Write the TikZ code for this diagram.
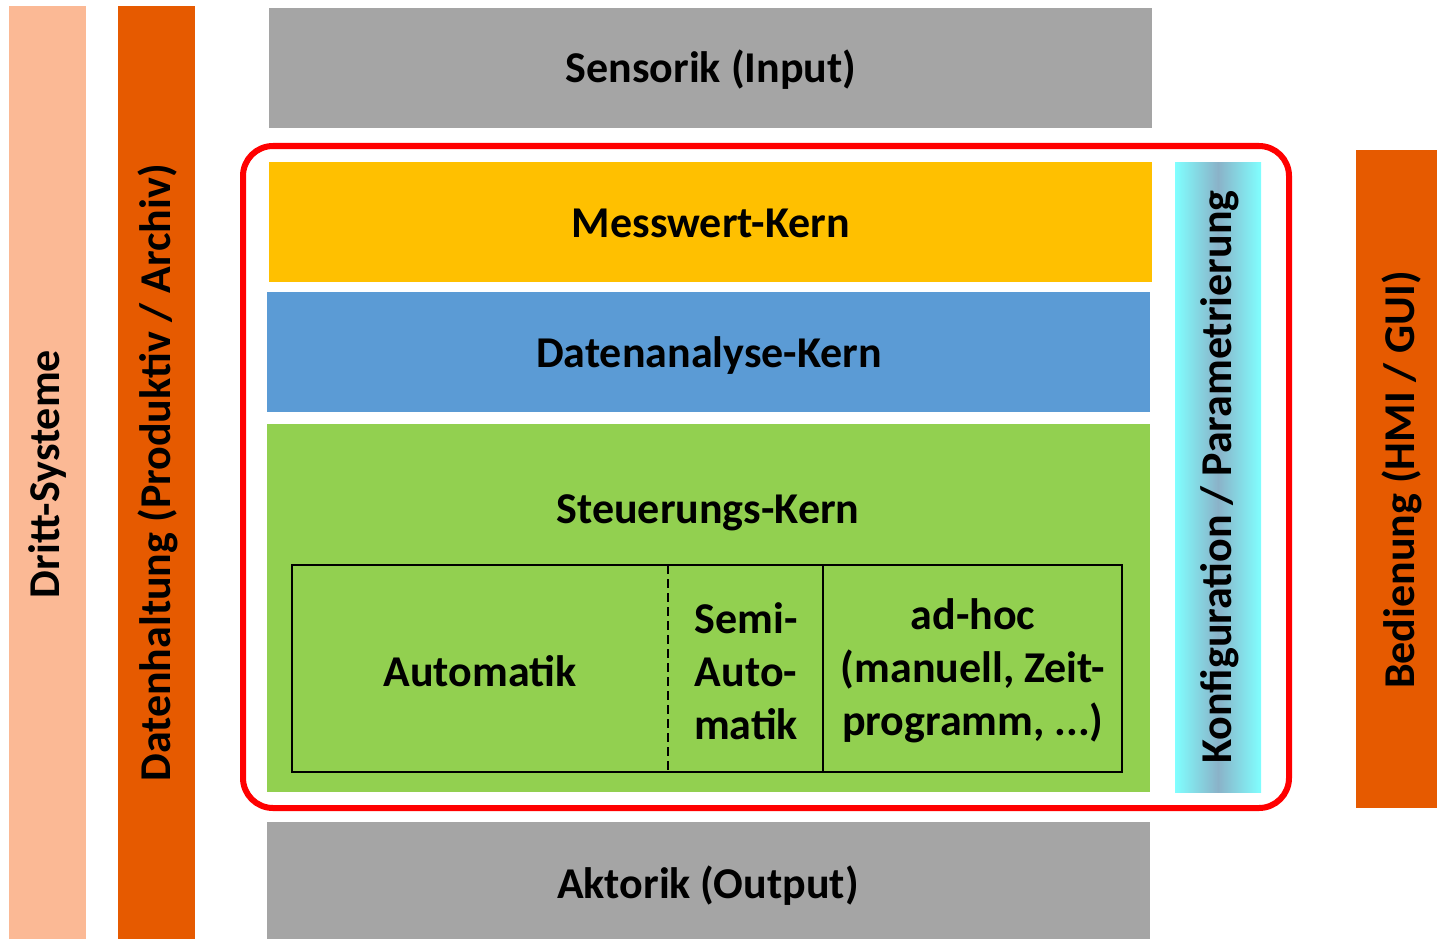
\documentclass[tikz,border=0pt]{standalone}
\usepackage{fontspec}
\setmainfont{Carlito}
\begin{document}
\begin{tikzpicture}[x=1pt,y=-1pt,
  lbl/.style={font=\fontsize{44}{53}\selectfont\bfseries,text=black,align=center},
  thinbox/.style={draw=black,line width=1.3pt}]
\definecolor{peach}{HTML}{FBB995}
\definecolor{dorange}{HTML}{E65A00}
\definecolor{gry}{HTML}{A5A5A5}
\definecolor{gold}{HTML}{FFC000}
\definecolor{blu}{HTML}{5B9BD5}
\definecolor{grn}{HTML}{92D050}
\definecolor{cyn}{HTML}{80FFFF}
\definecolor{cynmid}{HTML}{8AB2C8}
\useasboundingbox (0,0) rectangle (1437,939);
% side bars
\fill[peach] (9,6) rectangle (86,939);
\node[lbl,rotate=90] (dritt) at (48,474) {Dritt-Systeme};
\fill[dorange] (118,6) rectangle (195,939);
\node[lbl,rotate=90] (daten) at (158,473) {Datenhaltung (Produktiv / Archiv)};
\fill[dorange] (1356,150) rectangle (1437,808);
\node[lbl,rotate=90] (bed) at (1402,480) {Bedienung (HMI / GUI)};
% top/bottom
\fill[gry] (269,8) rectangle (1152,128);
\node[lbl] (sens) at (711,70) {Sensorik (Input)};
\fill[gry] (267,822) rectangle (1150,939);
\node[lbl] (akt) at (708,886) {Aktorik (Output)};
% cores
\fill[gold] (269,162) rectangle (1152,282);
\node[lbl] (mess) at (711,223) {Messwert-Kern};
\fill[blu] (267,292) rectangle (1150,412);
\node[lbl] (dana) at (709,356) {Datenanalyse-Kern};
\fill[grn] (267,424) rectangle (1150,792);
\node[lbl] (steu) at (708,513) {Steuerungs-Kern};
% inner boxes
\draw[thinbox] (668,565) -- (292,565) -- (292,772) -- (668,772);
\draw[thinbox,dash pattern=on 9pt off 5pt] (668,565) -- (668,772);
\draw[thinbox] (668,565) -- (823,565) -- (823,772) -- (668,772);
\draw[thinbox] (823,565) rectangle (1122,772);
\node[lbl] (auto) at (480,671) {Automatik};
\node[lbl] (semi) at (746,671) {Semi-\\Auto-\\matik};
\node[lbl] (adhoc) at (973,671) {ad-hoc\\(manuell, Zeit-\\programm, ...)};
% Konfiguration
\shade[shading=axis,left color=cyn,right color=cyn,middle color=cynmid] (1175,162) rectangle (1261,792);
\node[lbl,rotate=90] (konf) at (1220,477) {Konfiguration / Parametrierung};
% red frame
\draw[red,line width=6pt,rounded corners=30pt] (243,146) rectangle (1289,808);
\end{tikzpicture}
\end{document}
